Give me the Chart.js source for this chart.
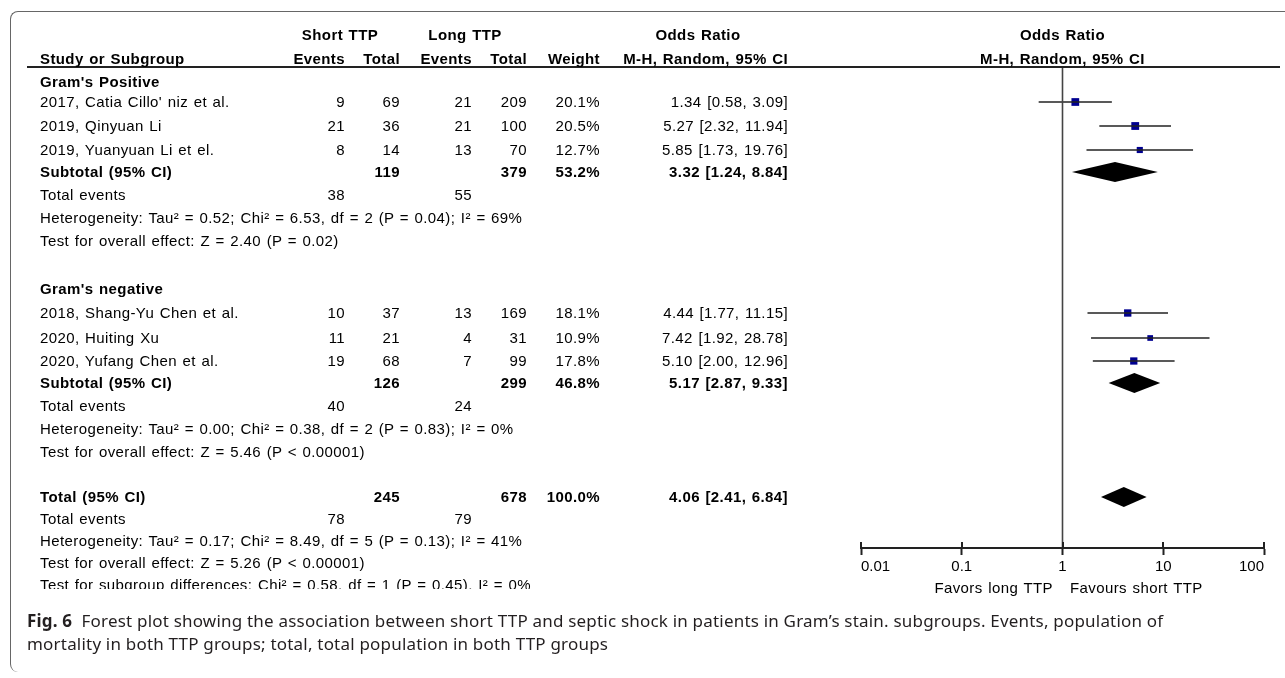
<!DOCTYPE html>
<html>
<head>
<meta charset="utf-8">
<script src="https://cdn.jsdelivr.net/npm/chart.js@4.4.0/dist/chart.umd.min.js"></script>
<style>
  body { margin: 0; background: #fff; width: 1285px; height: 678px; overflow: hidden; }
  #fig { position: relative; width: 1285px; height: 678px; font-family: "Liberation Sans", Arial, sans-serif; }
  #forest { position: absolute; left: 0; top: 0; }
  .t { position: absolute; white-space: nowrap; font-size: 15px; line-height: 18px; letter-spacing: 0.4px;
       word-spacing: 1px; color: #000; }
  .b { font-weight: bold; }
  .frame { position: absolute; left: 10px; top: 11px; width: 1300px; height: 660px;
           border-top: 1px solid #666; border-left: 1px solid #666; border-radius: 8px 0 0 8px; }
  .hline { position: absolute; left: 27px; top: 66px; width: 1253px; height: 2px; background: #222; }
  .cap { position: absolute; left: 27px; white-space: nowrap; font-family: "Noto Sans", sans-serif;
         font-size: 17px; letter-spacing: 0.2px; line-height: 22px; color: #231f20; }
  .clip { overflow: hidden; height: 12.5px; }
</style>
</head>
<body>
<div id="fig">
  <div class="frame"></div>
  <canvas id="forest" width="1285" height="678"></canvas>
  <div class="hline"></div>
</div>
<script>
// dados dos estudos
const studies = ["2017, Catia Cillo' niz et al.", "2019, Qinyuan Li", "2019, Yuanyuan Li et el.",
                 "2018, Shang-Yu Chen et al.", "2020, Huiting Xu", "2020, Yufang Chen et al."];
const shortEvents = [9, 21, 8, 10, 11, 19];
const shortTotal = [69, 36, 14, 37, 21, 68];
const longEvents = [21, 21, 13, 13, 4, 7];
const longTotal = [209, 100, 70, 169, 31, 99];
const weights = [20.1, 20.5, 12.7, 18.1, 10.9, 17.8];
const oddsRatio = [1.34, 5.27, 5.85, 4.44, 7.42, 5.10];
const ciLow = [0.58, 2.32, 1.73, 1.77, 1.92, 2.00];
const ciHigh = [3.09, 11.94, 19.76, 11.15, 28.78, 12.96];

// subgrupos
const subgroupNames = ["Gram's Positive", "Gram's negative"];
const subShortTotal = [119, 126];
const subLongTotal = [379, 299];
const subWeight = [53.2, 46.8];
const subOR = [3.32, 5.17];
const subLow = [1.24, 2.87];
const subHigh = [8.84, 9.33];
const subShortEvents = [38, 40];
const subLongEvents = [55, 24];
const subHeterogeneity = ["Heterogeneity: Tau² = 0.52; Chi² = 6.53, df = 2 (P = 0.04); I² = 69%",
                          "Heterogeneity: Tau² = 0.00; Chi² = 0.38, df = 2 (P = 0.83); I² = 0%"];
const subEffect = ["Test for overall effect: Z = 2.40 (P = 0.02)",
                   "Test for overall effect: Z = 5.46 (P < 0.00001)"];

// total geral
const totalShort = 245, totalLong = 678, totalWeight = 100.0;
const totalOR = 4.06, totalLow = 2.41, totalHigh = 6.84;
const totalShortEvents = 78, totalLongEvents = 79;
const totalHeterogeneity = "Heterogeneity: Tau² = 0.17; Chi² = 8.49, df = 5 (P = 0.13); I² = 41%";
const totalEffect = "Test for overall effect: Z = 5.26 (P < 0.00001)";
const subgroupDiff = "Test for subgroup differences: Chi² = 0.58, df = 1 (P = 0.45), I² = 0%";

// eixo
const tickValues = [0.01, 0.1, 1, 10, 100];
const tickLabels = ['0.01', '0.1', '1', '10', '100'];

// layout (pixels)
const plotTop = 67, plotBottom = 548, plotLeft = 861, plotRight = 1264;
const studyY = [102, 126, 150, 313, 338, 361];
const headY = [82, 289], subY = [172, 383], eventsY = [195, 406], hetY = [218, 429], effY = [241, 452];
const totY = 497, totEventsY = 519, totHetY = 541, totEffY = 563, diffY = 585;
const col = { name: 40, shortEv: 345, shortTot: 400, longEv: 472, longTot: 527, weight: 600, or: 788 };

const fig = document.getElementById('fig');
function put(text, x, y, align, bold) {
    const d = document.createElement('div');
    d.className = 't' + (bold ? ' b' : '');
    d.textContent = text;
    if (align === 'right') { d.style.left = (x - 300) + 'px'; d.style.width = '300px'; d.style.textAlign = 'right'; }
    else if (align === 'center') { d.style.left = (x - 200) + 'px'; d.style.width = '400px'; d.style.textAlign = 'center'; }
    else d.style.left = x + 'px';
    d.style.top = (y - 9) + 'px';
    fig.appendChild(d);
    return d;
}
const fmtCI = (e, l, h) => e.toFixed(2) + ' [' + l.toFixed(2) + ', ' + h.toFixed(2) + ']';

// cabeçalho
put('Short TTP', 340, 35, 'center', true);
put('Long TTP', 465, 35, 'center', true);
put('Odds Ratio', 698, 35, 'center', true);
put('Study or Subgroup', col.name, 59, 'left', true);
put('Events', col.shortEv, 59, 'right', true);
put('Total', col.shortTot, 59, 'right', true);
put('Events', col.longEv, 59, 'right', true);
put('Total', col.longTot, 59, 'right', true);
put('Weight', col.weight, 59, 'right', true);
put('M-H, Random, 95% CI', col.or, 59, 'right', true);
put('Odds Ratio', (plotLeft + plotRight) / 2, 35, 'center', true);
put('M-H, Random, 95% CI', (plotLeft + plotRight) / 2, 59, 'center', true);

// linhas da tabela
subgroupNames.forEach((g, k) => {
    put(g, col.name, headY[k], 'left', true);
    for (let i = k * 3; i < k * 3 + 3; i++) {
        const y = studyY[i];
        put(studies[i], col.name, y, 'left');
        put(String(shortEvents[i]), col.shortEv, y, 'right');
        put(String(shortTotal[i]), col.shortTot, y, 'right');
        put(String(longEvents[i]), col.longEv, y, 'right');
        put(String(longTotal[i]), col.longTot, y, 'right');
        put(weights[i].toFixed(1) + '%', col.weight, y, 'right');
        put(fmtCI(oddsRatio[i], ciLow[i], ciHigh[i]), col.or, y, 'right');
    }
    put('Subtotal (95% CI)', col.name, subY[k], 'left', true);
    put(String(subShortTotal[k]), col.shortTot, subY[k], 'right', true);
    put(String(subLongTotal[k]), col.longTot, subY[k], 'right', true);
    put(subWeight[k].toFixed(1) + '%', col.weight, subY[k], 'right', true);
    put(fmtCI(subOR[k], subLow[k], subHigh[k]), col.or, subY[k], 'right', true);
    put('Total events', col.name, eventsY[k], 'left');
    put(String(subShortEvents[k]), col.shortEv, eventsY[k], 'right');
    put(String(subLongEvents[k]), col.longEv, eventsY[k], 'right');
    put(subHeterogeneity[k], col.name, hetY[k], 'left');
    put(subEffect[k], col.name, effY[k], 'left');
});

put('Total (95% CI)', col.name, totY, 'left', true);
put(String(totalShort), col.shortTot, totY, 'right', true);
put(String(totalLong), col.longTot, totY, 'right', true);
put(totalWeight.toFixed(1) + '%', col.weight, totY, 'right', true);
put(fmtCI(totalOR, totalLow, totalHigh), col.or, totY, 'right', true);
put('Total events', col.name, totEventsY, 'left');
put(String(totalShortEvents), col.shortEv, totEventsY, 'right');
put(String(totalLongEvents), col.longEv, totEventsY, 'right');
put(totalHeterogeneity, col.name, totHetY, 'left');
put(totalEffect, col.name, totEffY, 'left');
// a última linha aparece cortada embaixo na figura original
const diff = put(subgroupDiff, col.name, diffY, 'left');
diff.classList.add('clip');

// rótulos do eixo
put('Favors long TTP', 1053, 588, 'right');
put('Favours short TTP', 1070, 588, 'left');

// legenda da figura
const cap1 = document.createElement('div');
cap1.className = 'cap';
cap1.style.top = '610px';
cap1.innerHTML = '<b>Fig. 6</b>&nbsp; Forest plot showing the association between short TTP and septic shock in patients in Gram’s stain. subgroups. Events, population of';
fig.appendChild(cap1);
const cap2 = document.createElement('div');
cap2.className = 'cap';
cap2.style.top = '633px';
cap2.textContent = 'mortality in both TTP groups; total, total population in both TTP groups';
fig.appendChild(cap2);

// losangos dos subtotais e do total
const diamonds = [
    { est: subOR[0], lo: subLow[0], hi: subHigh[0], y: subY[0] },
    { est: subOR[1], lo: subLow[1], hi: subHigh[1], y: subY[1] },
    { est: totalOR, lo: totalLow, hi: totalHigh, y: totY }
];

const forestExtras = {
    id: 'forestExtras',
    afterDatasetsDraw(chart) {
        const { ctx, chartArea, scales: { x, y } } = chart;
        ctx.save();
        ctx.fillStyle = '#000';
        diamonds.forEach(d => {
            const yc = y.getPixelForValue(d.y);
            const h = 10;
            ctx.beginPath();
            ctx.moveTo(x.getPixelForValue(d.lo), yc);
            ctx.lineTo(x.getPixelForValue(d.est), yc - h);
            ctx.lineTo(x.getPixelForValue(d.hi), yc);
            ctx.lineTo(x.getPixelForValue(d.est), yc + h);
            ctx.closePath();
            ctx.fill();
        });
        // parte de cima dos ticks do eixo
        ctx.strokeStyle = '#222';
        ctx.lineWidth = 2;
        tickValues.forEach(v => {
            const px = Math.round(x.getPixelForValue(v));
            ctx.beginPath();
            ctx.moveTo(px, chartArea.bottom - 6);
            ctx.lineTo(px, chartArea.bottom);
            ctx.stroke();
        });
        ctx.restore();
    }
};

const ciDatasets = studies.map((s, i) => ({
    data: [{ x: ciLow[i], y: studyY[i] }, { x: ciHigh[i], y: studyY[i] }],
    showLine: true, borderColor: '#222', borderWidth: 1.6, pointRadius: 0
}));

new Chart(document.getElementById('forest'), {
    type: 'scatter',
    data: {
        datasets: [
            {
                // linha vertical de nulidade (OR = 1)
                data: [{ x: 1, y: plotTop }, { x: 1, y: plotBottom }],
                showLine: true, borderColor: '#444', borderWidth: 1.6, pointRadius: 0
            },
            ...ciDatasets,
            {
                data: studies.map((s, i) => ({ x: oddsRatio[i], y: studyY[i] })),
                pointStyle: 'rect',
                pointRadius: weights.map(w => 1.22 * Math.sqrt(w)),
                backgroundColor: '#000090',
                borderWidth: 0
            }
        ]
    },
    options: {
        responsive: false,
        devicePixelRatio: 1,
        animation: false,
        layout: { padding: { left: plotLeft, right: 1285 - plotRight, top: plotTop, bottom: 0 } },
        plugins: { legend: { display: false }, tooltip: { enabled: false } },
        scales: {
            x: {
                type: 'logarithmic',
                min: 0.01, max: 100,
                afterBuildTicks: scale => { scale.ticks = tickValues.map(v => ({ value: v })); },
                afterFit: scale => { scale.height = 678 - plotBottom; },
                border: { display: true, color: '#222', width: 2 },
                grid: { drawOnChartArea: false, drawTicks: true, tickLength: 7, tickColor: '#222', tickWidth: 2 },
                ticks: {
                    autoSkip: false, maxRotation: 0, align: 'inner', padding: 3, color: '#000',
                    font: { family: '"Liberation Sans", Arial, sans-serif', size: 15 },
                    callback: (v, i) => tickLabels[i]
                }
            },
            y: { type: 'linear', min: plotTop, max: plotBottom, reverse: true, display: false }
        }
    },
    plugins: [forestExtras]
});
</script>
</body>
</html>
